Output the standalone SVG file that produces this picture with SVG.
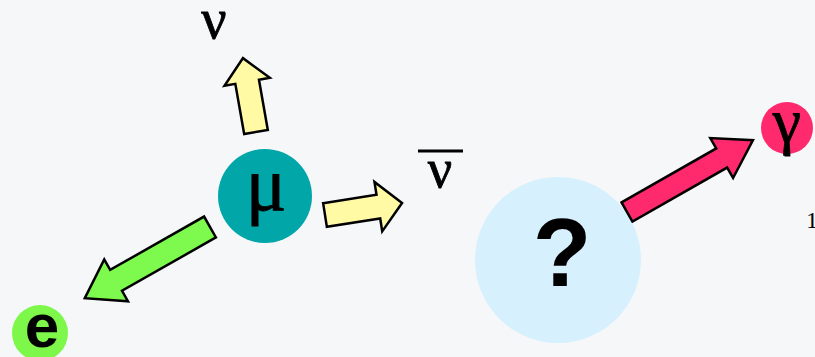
<svg xmlns="http://www.w3.org/2000/svg" width="815" height="357" viewBox="0 0 815 357">
<style>
.arrow{stroke:#000;stroke-width:2.5;stroke-linejoin:miter}
.greek{font-family:"Liberation Serif","Times New Roman",serif;fill:#000;stroke:#000;stroke-width:0.8;text-anchor:middle}
.sans{font-family:"Liberation Sans",Arial,sans-serif;font-weight:bold;fill:#000;text-anchor:middle}
</style>
<rect width="815" height="357" fill="#f6f7f9"/>
<g id="connectors">
<polygon class="arrow" fill="#fffaa3" transform="translate(256,132) rotate(-100)" points="0,-12 51,-12 51,-23 75,0 51,23 51,12 0,12"/>
<polygon class="arrow" fill="#fffaa3" transform="translate(325,215) rotate(-8.9)" points="0,-12 54,-12 54,-25 78,0 54,25 54,12 0,12"/>
<polygon class="arrow" fill="#7dfa4d" transform="translate(210,227) rotate(150.4)" points="0,-12 108,-12 108,-24 144,0 108,24 108,12 0,12"/>
</g>
<g id="nu">
<text class="greek" x="214" y="38" font-size="56">ν</text>
</g>
<g id="mu">
<circle cx="265" cy="196" r="47" fill="#00a6a8"/>
<text class="greek" x="266" y="210" font-size="76">μ</text>
</g>
<g id="antinu">
<line x1="418" y1="151" x2="463" y2="151" stroke="#000" stroke-width="3"/>
<text class="greek" x="440" y="187" font-size="54">ν</text>
</g>
<g id="electron">
<circle cx="40" cy="333" r="28" fill="#7df74a"/>
<text class="sans" x="42" y="347" font-size="62">e</text>
</g>
<g id="unknown">
<circle cx="558" cy="260" r="83" fill="#d6f0fe"/>
<text class="sans" x="562" y="286" font-size="96">?</text>
</g>
<g id="connector-gamma">
<polygon class="arrow" fill="#ff2a6e" transform="translate(627,212) rotate(-29.7)" points="0,-11 109,-11 109,-23 145,0 109,23 109,11 0,11"/>
</g>
<g id="gamma">
<circle cx="787" cy="128" r="26" fill="#ff2a6e"/>
<text class="greek" x="787" y="142" font-size="64">γ</text>
</g>
<text x="806" y="228" font-family="Liberation Serif,serif" font-size="24" fill="#000">1</text>
</svg>
